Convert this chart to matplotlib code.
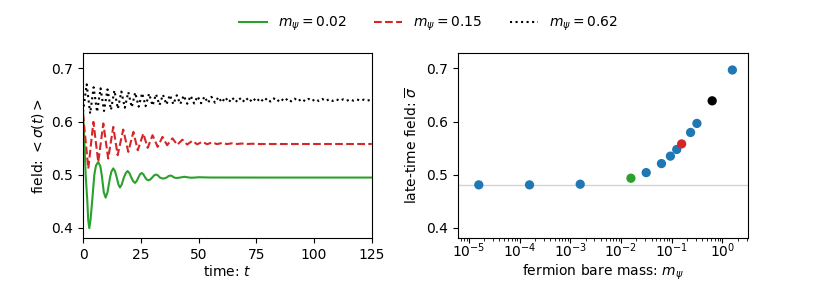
import numpy as np
import matplotlib
matplotlib.use("Agg")
import matplotlib.pyplot as plt

# ---------------- data ----------------
green_t = [0, 0.14, 0.6, 1.15, 1.85, 2.25, 2.73, 3.25, 4.0, 4.9, 5.6, 6.6, 7.5, 8.1, 9.0, 9.8,
           10.6, 11.7, 12.3, 13.1, 13.9, 14.6, 15.3, 16.0, 16.8, 17.7, 18.5, 19.3, 20.1, 20.9,
           21.7, 22.5, 23.2, 24.0, 24.7, 25.4, 26.1, 26.9, 27.6, 28.3, 29.1, 30.0, 30.8, 31.6,
           32.4, 33.2, 34.0, 34.7, 35.5, 36.3, 37.0, 37.8, 38.6, 39.3, 40.0, 40.8, 42.4, 43.9,
           45.5, 47.0, 48.6, 50.1, 55, 60, 80, 100, 125]
green_v = [0.620, 0.606, 0.560, 0.500, 0.452, 0.415, 0.3996, 0.415, 0.452, 0.500, 0.517, 0.524,
           0.516, 0.500, 0.467, 0.457, 0.467, 0.495, 0.506, 0.512, 0.506, 0.495, 0.482, 0.476,
           0.482, 0.495, 0.503, 0.507, 0.503, 0.495, 0.488, 0.4846, 0.488, 0.495, 0.501, 0.5033,
           0.501, 0.495, 0.491, 0.4896, 0.491, 0.495, 0.499, 0.5004, 0.499, 0.495, 0.4935, 0.4928,
           0.4935, 0.495, 0.4975, 0.4985, 0.4975, 0.495, 0.4942, 0.4940, 0.495, 0.4962, 0.495,
           0.4944, 0.4948, 0.4953, 0.4948, 0.4948, 0.4947, 0.4947, 0.4947]

red_t = [0, 2.3, 4.5, 6.6, 8.8, 10.9, 13.1, 15.0, 17.4, 19.6, 21.8, 23.7, 26.1, 28.0, 30.1, 32.3,
         34.4, 36.4, 38.7, 40.8, 43.0, 45.1, 47.3, 49.4, 51.6, 53.7, 55.9, 58.0, 60.2, 62.3, 64.5,
         66.7, 68.8, 71.0, 73.1, 76.0, 125]
red_v = [0.615, 0.5117, 0.5994, 0.524, 0.5964, 0.5305, 0.590, 0.5367, 0.585, 0.543, 0.5806,
         0.546, 0.5776, 0.5505, 0.5744, 0.5524, 0.5712, 0.5556, 0.5685, 0.5563, 0.566, 0.5568,
         0.5638, 0.5572, 0.562, 0.5574, 0.5608, 0.5576, 0.5598, 0.5577, 0.5592, 0.5578, 0.5587,
         0.5578, 0.5583, 0.5578, 0.5578]

black_peak_t = [1.6, 4.6, 7.6, 10.6, 13.6, 16.6, 19.6, 22.6, 25.6, 28.6, 31.6, 34.6, 37.6, 40.6,
                43.6, 46.6, 49.6, 52.6, 55.6, 58.6, 61.6, 64.6, 67.6, 70.6, 73.6, 76.6, 79.6,
                82.6, 85.6, 88.6, 91.6, 94.6, 97.6, 100.6, 103.6, 106.6, 109.6, 112.6, 115.6,
                118.6, 121.6, 124.6]
black_peak_v = [0.670, 0.6645, 0.6625, 0.6605, 0.6585, 0.6565, 0.6555, 0.6545, 0.6535, 0.6525,
                0.6515, 0.6505, 0.650, 0.6495, 0.649, 0.6485, 0.6475, 0.647, 0.6465, 0.646,
                0.6455, 0.645, 0.6447, 0.6445, 0.6442, 0.644, 0.6438, 0.6436, 0.6435, 0.6433,
                0.6431, 0.6429, 0.6427, 0.6425, 0.6424, 0.6422, 0.642, 0.6418, 0.6417, 0.6415,
                0.6413, 0.6412]
black_trough_t = [0, 3.1, 6.1, 9.1, 12.1, 15.1, 18.1, 21.1, 24.1, 27.1, 30.1, 33.1, 36.1, 39.1,
                  42.1, 45.1, 48.1, 51.1, 54.1, 57.1, 60.1, 63.1, 66.1, 69.1, 72.1, 75.1, 78.1,
                  81.1, 84.1, 87.1, 90.1, 93.1, 96.1, 99.1, 102.1, 105.1, 108.1, 111.1, 114.1,
                  117.1, 120.1, 123.1]
black_trough_v = [0.618, 0.615, 0.618, 0.620, 0.622, 0.624, 0.626, 0.627, 0.628, 0.629, 0.630,
                  0.631, 0.632, 0.6325, 0.633, 0.6335, 0.634, 0.6345, 0.635, 0.6355, 0.636,
                  0.6363, 0.6366, 0.6368, 0.637, 0.6372, 0.6374, 0.6376, 0.6378, 0.6379, 0.638,
                  0.6382, 0.6383, 0.6385, 0.6386, 0.6387, 0.6388, 0.639, 0.6391, 0.6392, 0.6393,
                  0.6394]

mass = [1.57e-5, 1.57e-4, 1.57e-3, 1.57e-2, 3.14e-2, 6.28e-2, 9.42e-2, 0.1257, 0.157,
        0.2356, 0.314, 0.628, 1.57]
sigma_bar = [0.481, 0.481, 0.4822, 0.4935, 0.504, 0.521, 0.535, 0.5475, 0.558, 0.5795,
             0.5965, 0.639, 0.697]
point_colors = ['tab:blue', 'tab:blue', 'tab:blue', 'tab:green', 'tab:blue', 'tab:blue',
                'tab:blue', 'tab:blue', 'tab:red', 'tab:blue', 'tab:blue', 'black', 'tab:blue']
baseline = 0.481

legend_labels = [r'$m_\psi = 0.02$', r'$m_\psi = 0.15$', r'$m_\psi = 0.62$']

# ---------------- figure ----------------
fig = plt.figure(figsize=(8.3, 2.91), dpi=100)
ax1 = fig.add_axes([0.100, 0.182, 0.348, 0.636])
ax2 = fig.add_axes([0.552, 0.182, 0.349, 0.636])

bt = np.concatenate([black_peak_t, black_trough_t])
bv = np.concatenate([black_peak_v, black_trough_v])
order = np.argsort(bt)

l1, = ax1.plot(green_t, green_v, color='tab:green', lw=1.5, ls='-')
l2, = ax1.plot(red_t, red_v, color='tab:red', lw=1.5, ls='--')
l3, = ax1.plot(bt[order], bv[order], color='black', lw=1.5, ls=':')

ax1.set_xlim(0, 125)
ax1.set_ylim(0.381, 0.729)
ax1.set_xticks([0, 25, 50, 75, 100, 125])
ax1.set_yticks([0.4, 0.5, 0.6, 0.7])
ax1.set_xlabel(r'time: $t$', labelpad=1.5)
ax1.set_ylabel(r'field: $<\sigma(t)>$')

ax2.axhline(baseline, color='lightgray', lw=1, zorder=1)
ax2.scatter(mass, sigma_bar, c=point_colors, s=32, zorder=3)
ax2.set_xscale('log')
ax2.set_xlim(10 ** -5.211, 10 ** 0.501)
ax2.set_ylim(0.381, 0.729)
ax2.set_yticks([0.4, 0.5, 0.6, 0.7])
ax2.tick_params(axis='x', which='major', pad=-1.0)
ax2.set_xlabel(r'fermion bare mass: $m_\psi$', labelpad=2)
ax2.set_ylabel(r'late-time field: $\overline{\sigma}$')

fig.legend([l1, l2, l3], legend_labels, loc='upper center', ncol=3, frameon=False,
           bbox_to_anchor=(0.516, 0.993))

fig.savefig('out.png', dpi=100)
